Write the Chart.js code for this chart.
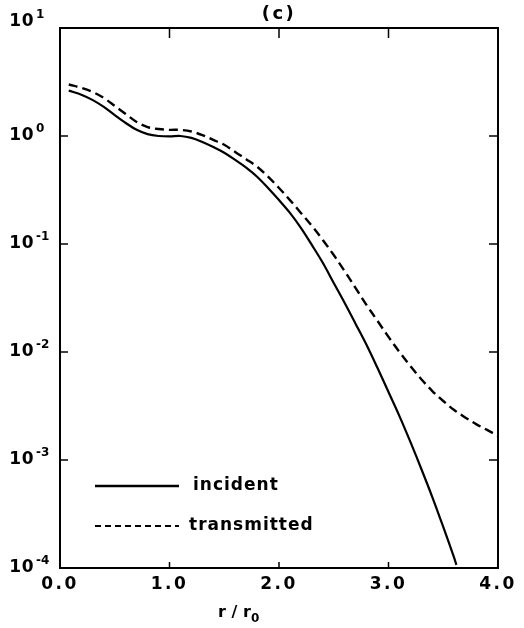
<!DOCTYPE html>
<html><head><meta charset="utf-8">
<script src="https://cdn.jsdelivr.net/npm/chart.js@4.4.0/dist/chart.umd.min.js"></script>
<style>html,body{margin:0;padding:0;background:#fff;}</style>
</head><body>
<canvas id="c" width="524" height="628"></canvas>
<script>
// ---- data ----
const incidentR = [0.08,0.2,0.3,0.4,0.5,0.6,0.7,0.8,0.9,1.0,1.1,1.2,1.3,1.4,1.5,1.6,1.7,1.8,1.9,2.0,2.1,2.2,2.3,2.4,2.5,2.6,2.7,2.8,2.9,3.0,3.1,3.2,3.3,3.4,3.5,3.6,3.62];
const incidentVals = [2.63,2.40,2.15,1.86,1.56,1.32,1.14,1.04,1.00,0.99,1.00,0.96,0.88,0.79,0.70,0.60,0.51,0.42,0.33,0.255,0.194,0.141,0.098,0.067,0.0435,0.0284,0.0182,0.0116,0.0071,0.00426,0.00255,0.00147,0.000826,0.000454,0.000240,0.000124,0.000107];
const transmittedR = [0.08,0.2,0.3,0.4,0.5,0.6,0.7,0.8,0.9,1.0,1.1,1.2,1.3,1.4,1.5,1.6,1.7,1.8,1.9,2.0,2.1,2.2,2.3,2.4,2.5,2.6,2.7,2.8,2.9,3.0,3.1,3.2,3.3,3.4,3.5,3.6,3.7,3.8,3.9,4.0];
const transmittedVals = [3.00,2.78,2.55,2.25,1.90,1.60,1.35,1.21,1.16,1.14,1.14,1.10,1.02,0.92,0.83,0.71,0.61,0.52,0.42,0.33,0.255,0.194,0.147,0.109,0.079,0.056,0.039,0.0272,0.0194,0.0138,0.0100,0.0074,0.0056,0.00435,0.00352,0.00290,0.00248,0.00215,0.00190,0.00167];
const seriesNames = ['incident','transmitted'];
const xTickValues = [0,1,2,3,4];
const yDecades = [1,0,-1,-2,-3,-4];
const titleText = '(c)';

const FONT = '"DejaVu Sans", sans-serif';

function toPts(xs, ys){ return xs.map((v,i)=>({x:v, y:ys[i]})); }

const decor = {
  id:'decor',
  beforeDraw(chart){ chart.ctx.letterSpacing = '2.5px'; },
  afterDraw(chart){
    const {ctx, chartArea:a, scales:{x, y}} = chart;
    ctx.save();
    ctx.letterSpacing = '0px';
    ctx.strokeStyle = '#000';
    ctx.lineWidth = 2;
    ctx.setLineDash([]);
    ctx.strokeRect(a.left, a.top, a.right - a.left, a.bottom - a.top);
    const seg = (x1,y1,x2,y2)=>{ctx.beginPath();ctx.moveTo(x1,y1);ctx.lineTo(x2,y2);ctx.stroke();};
    ctx.lineWidth = 1.5;
    xTickValues.slice(1,-1).forEach(v=>{
      const px = x.getPixelForValue(v);
      seg(px, a.top, px, a.top+10);
      seg(px, a.bottom, px, a.bottom-6);
    });
    yDecades.slice(1,-1).forEach(d=>{
      const py = y.getPixelForValue(Math.pow(10,d));
      seg(a.left, py, a.left+8, py);
      seg(a.right, py, a.right-9, py);
    });
    // y tick labels (10 with superscript exponent)
    ctx.fillStyle = '#000';
    yDecades.forEach(d=>{
      const py = y.getPixelForValue(Math.pow(10,d));
      ctx.font = 'bold 17px ' + FONT;
      ctx.letterSpacing = '0.5px';
      ctx.textAlign = 'right';
      ctx.textBaseline = 'middle';
      ctx.fillText('10', 34, py + (d===1 ? -6 : 0));
      ctx.letterSpacing = '0px';
      ctx.font = 'bold 12px ' + FONT;
      ctx.textAlign = 'left';
      ctx.fillText(String(d), 36, py - 7 + (d===1 ? -6 : 0));
    });
    // x axis title r / r0
    ctx.font = 'bold 16px ' + FONT;
    ctx.letterSpacing = '0px';
    ctx.textAlign = 'left';
    ctx.textBaseline = 'middle';
    ctx.fillText('r / r', 218, 613);
    ctx.font = 'bold 12px ' + FONT;
    ctx.fillText('0', 251, 619);
    // legend
    const ds = chart.data.datasets;
    const rows = [{y:486, dash:[], w:2.5}, {y:526, dash:[6,4], w:1.8}];
    ds.forEach((d,i)=>{
      ctx.setLineDash(rows[i].dash);
      ctx.lineWidth = rows[i].w;
      ctx.strokeStyle = d.borderColor;
      seg(95, rows[i].y, 179, rows[i].y);
      ctx.setLineDash([]);
      ctx.font = 'bold 17px ' + FONT;
      ctx.letterSpacing = '1px';
      ctx.textAlign = 'left';
      ctx.textBaseline = 'middle';
      ctx.fillStyle = '#000';
      ctx.fillText(d.label, i===0?193:189, rows[i].y);
    });
    ctx.restore();
    chart.ctx.letterSpacing = '0px';
  }
};

new Chart(document.getElementById('c'), {
  type:'line',
  data:{
    datasets:[
      {label:seriesNames[0], data:toPts(incidentR, incidentVals), borderColor:'#000', borderWidth:2.2, pointRadius:0, tension:0.35, fill:false},
      {label:seriesNames[1], data:toPts(transmittedR, transmittedVals), borderColor:'#000', borderWidth:2.4, borderDash:[9,5], pointRadius:0, tension:0.35, fill:false}
    ]
  },
  options:{
    responsive:false,
    animation:false,
    devicePixelRatio:1,
    layout:{padding:{left:0, right:26, top:0, bottom:0}},
    plugins:{
      legend:{display:false},
      tooltip:{enabled:false},
      title:{display:true, text:titleText, fullSize:false, color:'#000',
        font:{family:FONT, size:18, weight:'bold', lineHeight:1.2}, padding:{top:4, bottom:2.4}}
    },
    scales:{
      x:{type:'linear', min:0, max:4,
        afterFit(s){ s.height = 60; },
        afterBuildTicks(s){ s.ticks = xTickValues.map(v=>({value:v})); },
        grid:{display:false, drawTicks:false}, border:{display:false},
        ticks:{color:'#000', padding:6, maxRotation:0, autoSkip:false,
          font:{family:FONT, size:17, weight:'bold'},
          callback:(v)=>Number(v).toFixed(1)}
      },
      y:{type:'logarithmic', min:1e-4, max:10,
        afterFit(s){ s.width = 60; },
        grid:{display:false}, border:{display:false},
        ticks:{display:false}
      }
    }
  },
  plugins:[decor]
});
</script>
</body></html>
